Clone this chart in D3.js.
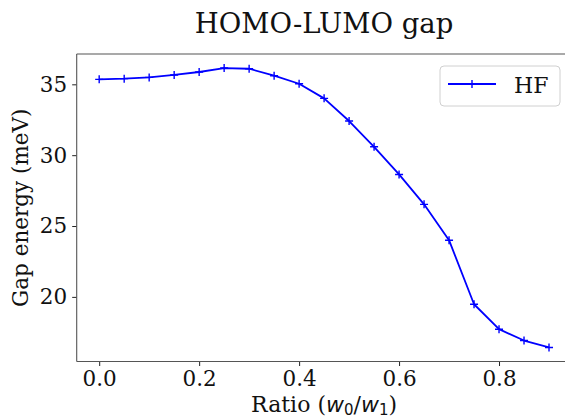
<!DOCTYPE html>
<html>
<head>
<meta charset="utf-8">
<script src="https://cdn.jsdelivr.net/npm/d3@7"></script>
<style>
  html, body { margin: 0; padding: 0; background: #fff; overflow: hidden; }
  svg { display: block; font-family: "DejaVu Serif", serif; }
</style>
</head>
<body>
<svg id="chart"></svg>
<script>
// HOMO-LUMO gap vs ratio w0/w1
const ratios = [0.0, 0.05, 0.1, 0.15, 0.2, 0.25, 0.3, 0.35, 0.4, 0.45,
                0.5, 0.55, 0.6, 0.65, 0.7, 0.75, 0.8, 0.85, 0.9];
const gapHF = [35.35, 35.40, 35.49, 35.66, 35.87, 36.15, 36.10, 35.61, 35.04, 34.01,
               32.41, 30.59, 28.64, 26.53, 24.00, 19.48, 17.72, 16.92, 16.43];
const xTicks = [0.0, 0.2, 0.4, 0.6, 0.8];
const yTicks = [20, 25, 30, 35];
const seriesName = 'HF';

const width = 565, height = 417;
const plotLeft = 76.7, plotRight = 571.5, plotTop = 54, plotBottom = 361.5;

const svg = d3.select('#chart').attr('width', width).attr('height', height);

const x = d3.scaleLinear().domain([-0.045, 0.945]).range([plotLeft, plotRight]);
const y = d3.scaleLinear().domain([15.44, 37.14]).range([plotBottom, plotTop]);

// axes
const xAxis = svg.append('g')
  .attr('transform', `translate(0, ${plotBottom})`)
  .call(d3.axisBottom(x).tickValues(xTicks).tickFormat(d3.format('.1f')).tickSizeOuter(0).tickSize(4.5).tickPadding(4.5));
const yAxis = svg.append('g')
  .attr('transform', `translate(${plotLeft}, 0)`)
  .call(d3.axisLeft(y).tickValues(yTicks).tickSizeOuter(0).tickSize(4.5).tickPadding(5));

[xAxis, yAxis].forEach(g => {
  g.select('.domain').remove();
  g.selectAll('.tick line').attr('stroke', '#222').attr('stroke-width', 1);
  g.selectAll('.tick text')
    .attr('fill', '#111')
    .style('font-family', '"DejaVu Serif", serif')
    .style('font-size', '21.5px');
});

// spines (right one falls outside the picture)
const spine = '#555';
svg.append('line').attr('x1', plotLeft).attr('x2', plotLeft).attr('y1', plotTop).attr('y2', plotBottom)
  .attr('stroke', spine).attr('stroke-width', 1.1);
svg.append('line').attr('x1', plotLeft).attr('x2', plotRight).attr('y1', plotTop).attr('y2', plotTop)
  .attr('stroke', spine).attr('stroke-width', 1.1);
svg.append('line').attr('x1', plotLeft).attr('x2', plotRight).attr('y1', plotBottom).attr('y2', plotBottom)
  .attr('stroke', spine).attr('stroke-width', 1.1);
svg.append('line').attr('x1', plotRight).attr('x2', plotRight).attr('y1', plotTop).attr('y2', plotBottom)
  .attr('stroke', spine).attr('stroke-width', 1.1);

// line + markers
const pts = ratios.map((r, i) => ({ r, v: gapHF[i] }));
const line = d3.line().x(d => x(d.r)).y(d => y(d.v));
svg.append('path')
  .datum(pts)
  .attr('d', line)
  .attr('fill', 'none')
  .attr('stroke', '#0000ff')
  .attr('stroke-width', 1.8)
  .attr('stroke-linejoin', 'round');

const plus = (cx, cy, s) => `M${cx - s},${cy}H${cx + s}M${cx},${cy - s}V${cy + s}`;
svg.append('g').selectAll('path')
  .data(pts)
  .join('path')
  .attr('d', d => plus(x(d.r), y(d.v), 4))
  .attr('stroke', '#0000ff')
  .attr('stroke-width', 1.4);

// title
svg.append('text')
  .attr('x', (plotLeft + plotRight) / 2)
  .attr('y', 33)
  .attr('text-anchor', 'middle')
  .attr('fill', '#111')
  .attr('font-size', 27.5)
  .text('HOMO-LUMO gap');

// x label (kept just inside the bottom edge)
const xLabel = svg.append('text')
  .attr('x', (plotLeft + plotRight) / 2)
  .attr('y', 411.5)
  .attr('text-anchor', 'middle')
  .attr('fill', '#111')
  .attr('font-size', 22);
xLabel.append('tspan').text('Ratio (');
xLabel.append('tspan').attr('font-family', '"DejaVu Sans", sans-serif').attr('font-style', 'italic').text('w');
xLabel.append('tspan').attr('font-family', '"DejaVu Sans", sans-serif').attr('font-size', 15).attr('dy', 3).text('0');
xLabel.append('tspan').attr('dy', -3).text('/');
xLabel.append('tspan').attr('font-family', '"DejaVu Sans", sans-serif').attr('font-style', 'italic').text('w');
xLabel.append('tspan').attr('font-family', '"DejaVu Sans", sans-serif').attr('font-size', 15).attr('dy', 3).text('1');
xLabel.append('tspan').attr('dy', -3).text(')');

// y label
svg.append('text')
  .attr('transform', `translate(28, ${(plotTop + plotBottom) / 2}) rotate(-90)`)
  .attr('text-anchor', 'middle')
  .attr('fill', '#111')
  .attr('font-size', 21.5)
  .text('Gap energy (meV)');

// legend
const legend = svg.append('g');
legend.append('rect')
  .attr('x', 440).attr('y', 66).attr('width', 120).attr('height', 40).attr('rx', 4)
  .attr('fill', '#fff').attr('fill-opacity', 0.8)
  .attr('stroke', '#d0d0d0').attr('stroke-width', 1);
legend.append('line')
  .attr('x1', 448).attr('x2', 496).attr('y1', 84).attr('y2', 84)
  .attr('stroke', '#0000ff').attr('stroke-width', 1.8);
legend.append('path')
  .attr('d', plus(472, 84, 4))
  .attr('stroke', '#0000ff').attr('stroke-width', 1.4);
legend.append('text')
  .attr('x', 514).attr('y', 92.5)
  .attr('fill', '#111')
  .attr('font-size', 22)
  .text(seriesName);
</script>
</body>
</html>
